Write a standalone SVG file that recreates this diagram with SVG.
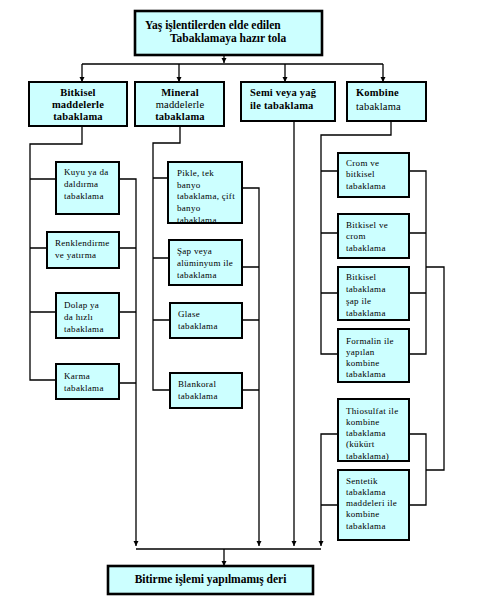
<svg xmlns="http://www.w3.org/2000/svg" width="481" height="598" viewBox="0 0 481 598">
<style>
.bx{fill:#ccffff;stroke:#000;stroke-width:2}
.bt{fill:#ccffff;stroke:#000;stroke-width:2.6}
.s{font-family:"Liberation Serif","Times New Roman",serif;font-size:9px;letter-spacing:0.3px;fill:#000}
.h{font-family:"Liberation Serif","Times New Roman",serif;font-size:10.5px;letter-spacing:0.2px;font-weight:bold;fill:#000}
.hn{font-weight:normal}
.t{font-family:"Liberation Serif","Times New Roman",serif;font-size:11.5px;font-weight:bold;fill:#000}
.c{fill:none;stroke:#000;stroke-width:1.3}
</style>
<defs>
<marker id="ar" markerWidth="6" markerHeight="6" refX="5" refY="3" orient="auto" markerUnits="userSpaceOnUse">
<path d="M0,0.5 L5,3 L0,5.5 Z" fill="#000"/>
</marker>
<clipPath id="cp1"><rect x="168" y="162" width="74" height="60"/></clipPath>
<clipPath id="cp2"><rect x="338" y="399" width="71" height="61"/></clipPath>
</defs>
<rect width="481" height="598" fill="#fff"/>
<g id="connectors">
<path class="c" d="M224,55 V63" marker-end="url(#ar)"/>
<path class="c" d="M82,64 H383"/>
<path class="c" d="M82,64 V82" marker-end="url(#ar)"/>
<path class="c" d="M179,64 V82" marker-end="url(#ar)"/>
<path class="c" d="M285,64 V82" marker-end="url(#ar)"/>
<path class="c" d="M383,64 V82" marker-end="url(#ar)"/>
<path class="c" d="M82,126 V144 H30 V380 H56 M30,179 H56 M30,248 H47 M30,312 H56"/>
<path class="c" d="M119,179 H136 V546" marker-end="url(#ar)"/>
<path class="c" d="M119,248 H136 M119,312 H136 M119,383 H136"/>
<path class="c" d="M180,126 V143 H153 V390 H170 M153,178 H168 M153,258 H169 M153,320 H170"/>
<path class="c" d="M242,188 H259 V546" marker-end="url(#ar)"/>
<path class="c" d="M242,267 H259 M242,320 H259 M242,390 H259"/>
<path class="c" d="M294,121 V546" marker-end="url(#ar)"/>
<path class="c" d="M391,121 V135 H321 V354 H338 M321,171 H338 M321,233 H338 M321,293 H338"/>
<path class="c" d="M409,171 H426 V354 H409 M409,233 H426 M409,293 H426 M426,267 H444 V470 H426"/>
<path class="c" d="M338,434 H321 V546" marker-end="url(#ar)"/>
<path class="c" d="M321,505 H338 M409,434 H426 V505 H409"/>
<path class="c" d="M136,549 H321"/>
<path class="c" d="M224,549 V566" marker-end="url(#ar)"/>
</g>
<g id="n-top"><rect class="bt" x="135" y="11" width="187" height="44"/>
<text class="t" x="145" y="29">Yaş işlentilerden elde edilen</text>
<text class="t" x="170" y="42">Tabaklamaya hazır tola</text></g>
<g id="n-bitkisel"><rect class="bx" x="29" y="82" width="98" height="44"/>
<text class="h" text-anchor="middle"><tspan x="78" y="96">Bitkisel</tspan><tspan x="78" y="108">maddelerle</tspan><tspan x="78" y="120">tabaklama</tspan></text></g>
<g id="n-mineral"><rect class="bx" x="135" y="82" width="89" height="44"/>
<text class="h" text-anchor="middle"><tspan x="180" y="96">Mineral</tspan><tspan class="hn" x="180" y="108">maddelerle</tspan><tspan x="180" y="120">tabaklama</tspan></text></g>
<g id="n-semi"><rect class="bx" x="241" y="82" width="94" height="39"/>
<text class="h"><tspan x="250" y="96">Semi veya yağ</tspan><tspan x="250" y="109">ile tabaklama</tspan></text></g>
<g id="n-kombine"><rect class="bx" x="347" y="82" width="79" height="39"/>
<text class="h"><tspan x="356" y="96">Kombine</tspan><tspan class="hn" x="356" y="110">tabaklama</tspan></text></g>
<g id="n-kuyu"><rect class="bx" x="56" y="162" width="63" height="52"/>
<text class="s"><tspan x="64" y="175">Kuyu ya da</tspan><tspan x="64" y="187">daldırma</tspan><tspan x="64" y="199">tabaklama</tspan></text></g>
<g id="n-renk"><rect class="bx" x="47" y="232" width="72" height="36"/>
<text class="s"><tspan x="55" y="246">Renklendirme</tspan><tspan x="55" y="258">ve yatırma</tspan></text></g>
<g id="n-dolap"><rect class="bx" x="56" y="293" width="63" height="45"/>
<text class="s"><tspan x="64" y="308">Dolap ya</tspan><tspan x="64" y="320">da hızlı</tspan><tspan x="64" y="332">tabaklama</tspan></text></g>
<g id="n-karma"><rect class="bx" x="56" y="364" width="63" height="35"/>
<text class="s"><tspan x="64" y="379">Karma</tspan><tspan x="64" y="391">tabaklama</tspan></text></g>
<g id="n-pikle"><rect class="bx" x="168" y="162" width="74" height="61"/>
<text class="s" clip-path="url(#cp1)"><tspan x="177" y="176">Pikle, tek</tspan><tspan x="177" y="187.5">banyo</tspan><tspan x="177" y="199">tabaklama, çift</tspan><tspan x="177" y="211">banyo</tspan><tspan x="177" y="223">tabaklama</tspan></text></g>
<g id="n-sap"><rect class="bx" x="169" y="240" width="73" height="45"/>
<text class="s"><tspan x="177" y="254">Şap veya</tspan><tspan x="177" y="266">alüminyum ile</tspan><tspan x="177" y="278">tabaklama</tspan></text></g>
<g id="n-glase"><rect class="bx" x="170" y="303" width="72" height="35"/>
<text class="s"><tspan x="178" y="317">Glase</tspan><tspan x="178" y="329">tabaklama</tspan></text></g>
<g id="n-blankoral"><rect class="bx" x="170" y="373" width="72" height="35"/>
<text class="s"><tspan x="178" y="387">Blankoral</tspan><tspan x="178" y="399">tabaklama</tspan></text></g>
<g id="n-crom"><rect class="bx" x="338" y="153" width="71" height="44"/>
<text class="s"><tspan x="346" y="166">Crom ve</tspan><tspan x="346" y="177">bitkisel</tspan><tspan x="346" y="189">tabaklama</tspan></text></g>
<g id="n-bvc"><rect class="bx" x="338" y="214" width="71" height="44"/>
<text class="s"><tspan x="346" y="228">Bitkisel ve</tspan><tspan x="346" y="239">crom</tspan><tspan x="346" y="251">tabaklama</tspan></text></g>
<g id="n-bts"><rect class="bx" x="338" y="267" width="71" height="53"/>
<text class="s"><tspan x="346" y="280">Bitkisel</tspan><tspan x="346" y="292">tabaklama</tspan><tspan x="346" y="304">şap ile</tspan><tspan x="346" y="316">tabaklama</tspan></text></g>
<g id="n-formalin"><rect class="bx" x="338" y="329" width="71" height="53"/>
<text class="s"><tspan x="346" y="344">Formalin ile</tspan><tspan x="346" y="355">yapılan</tspan><tspan x="346" y="366">kombine</tspan><tspan x="346" y="377">tabaklama</tspan></text></g>
<g id="n-thio"><rect class="bx" x="338" y="399" width="71" height="62"/>
<text class="s" clip-path="url(#cp2)"><tspan x="346" y="414">Thiosulfat ile</tspan><tspan x="346" y="425">kombine</tspan><tspan x="346" y="436">tabaklama</tspan><tspan x="346" y="447">(kükürt</tspan><tspan x="346" y="459">tabaklama)</tspan></text></g>
<g id="n-sentetik"><rect class="bx" x="338" y="470" width="71" height="70"/>
<text class="s"><tspan x="346" y="484">Sentetik</tspan><tspan x="346" y="495">tabaklama</tspan><tspan x="346" y="506">maddeleri ile</tspan><tspan x="346" y="517">kombine</tspan><tspan x="346" y="529">tabaklama</tspan></text></g>
<g id="n-bitirme"><rect class="bt" x="108" y="566" width="205" height="28"/>
<text class="t" x="210.5" y="583" text-anchor="middle">Bitirme işlemi yapılmamış deri</text></g>
</svg>
